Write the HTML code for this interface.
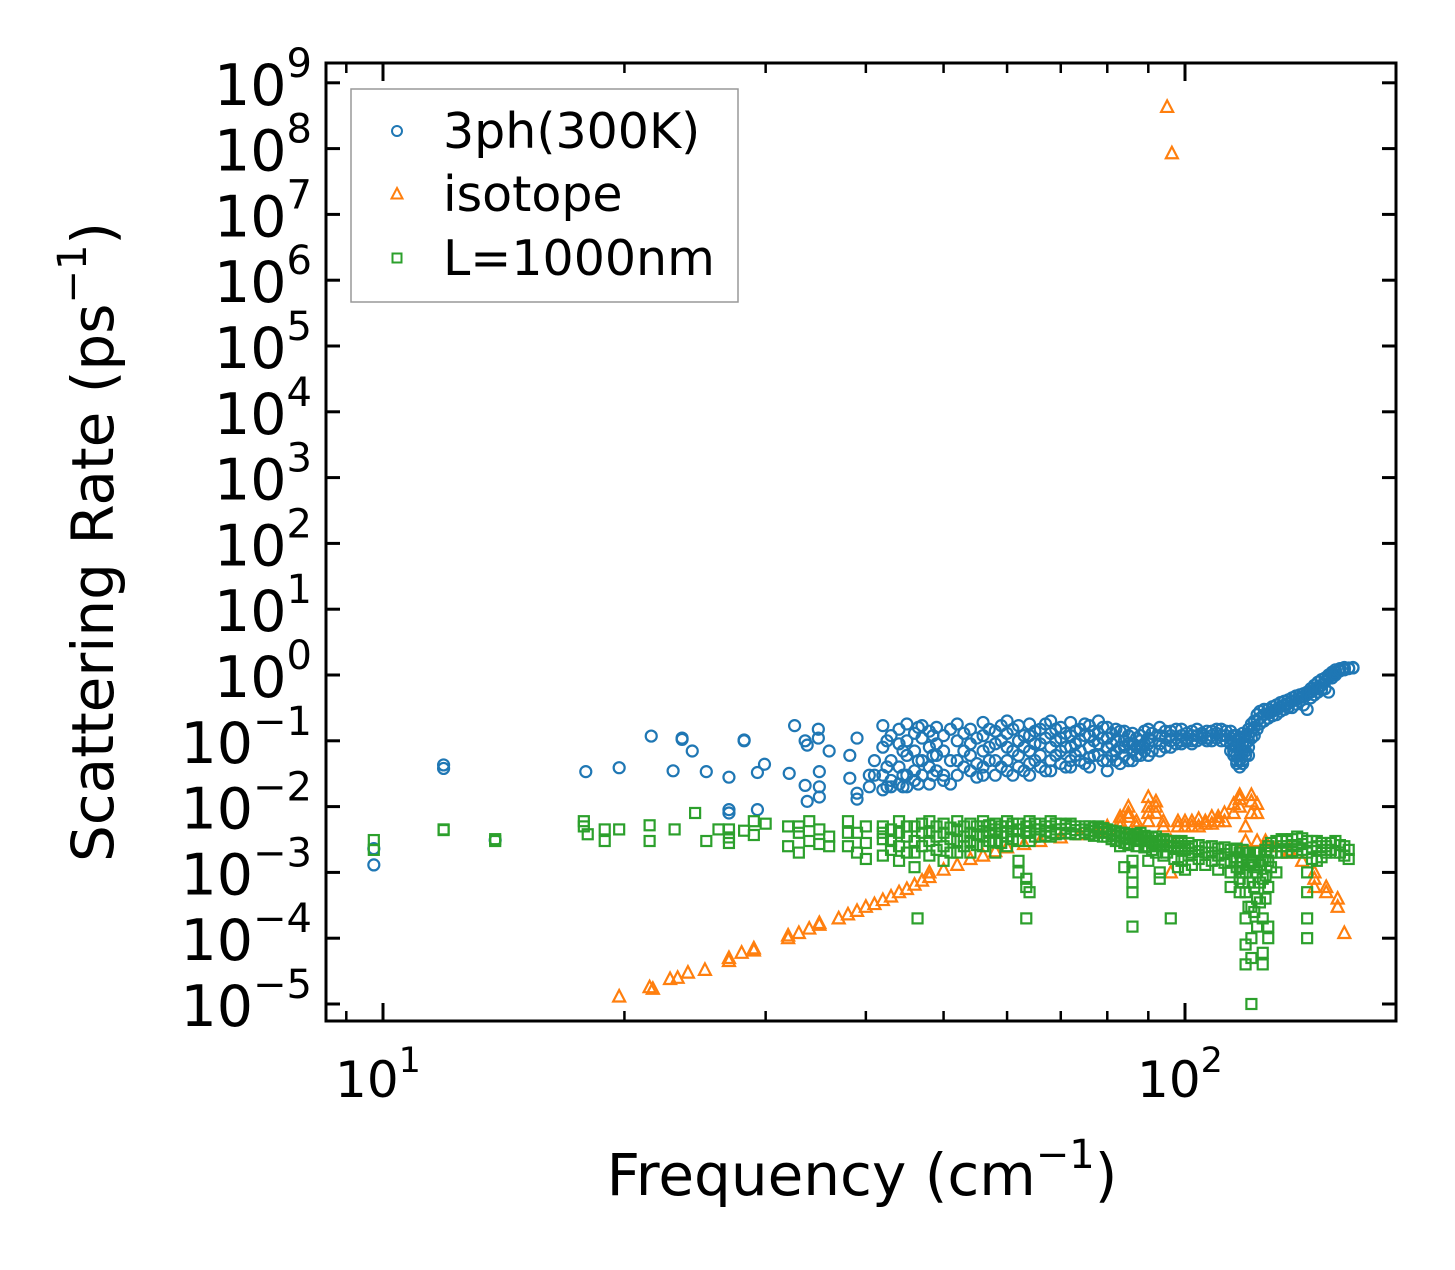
<!DOCTYPE html>
<html><head><meta charset="utf-8"><style>
html,body{margin:0;padding:0;background:#fff;}
svg{display:block;font-family:"DejaVu Sans","Liberation Sans",sans-serif;}
</style></head><body>
<svg id="chart" width="1455" height="1270" viewBox="0 0 1455 1270" xmlns="http://www.w3.org/2000/svg">
<rect width="1455" height="1270" fill="#fff"/>
<g id="marks"></g>
<g id="axes"></g>
<text x="862" y="1195" text-anchor="middle" font-size="58">Frequency (cm<tspan dy="-27" font-size="40">−1</tspan><tspan dy="27">)</tspan></text>
<text transform="translate(113,542) rotate(-90)" text-anchor="middle" font-size="58">Scattering Rate (ps<tspan dy="-27" font-size="40">−1</tspan><tspan dy="27">)</tspan></text>
<g>
<rect x="351" y="89" width="387" height="213" fill="#fff" stroke="#999" stroke-width="1.5"/>
<circle cx="397" cy="131" r="5" fill="none" stroke="#1f77b4" stroke-width="2"/>
<text x="443" y="148" font-size="49">3ph(300K)</text>
<polygon points="397,188 402.5,198.5 391.5,198.5" fill="none" stroke="#ff7f0e" stroke-width="2"/>
<text x="443" y="211" font-size="49">isotope</text>
<rect x="392.5" y="253.5" width="9" height="9" fill="none" stroke="#2ca02c" stroke-width="2"/>
<text x="443" y="275" font-size="49">L=1000nm</text>
</g>
</svg>
<script>
// ---- data ----
const freq3ph = [9.74,11.9,13.8,17.9,19.7,21.6,23.0,23.6,24.3,25.3,27.0,28.2,29.3,29.9,32.1,32.6,33.6,33.8,34.9,35.0,36,38.2,39,40.4,41,
 42,42.5,43,44,44.5,45,46,46.5,47,48,48.5,49,50,51,52,53,54,55,56,57,58,59,60,61,62,63,64,65,66,67,68,69,70,71,72,73,74,75,76,77,78,79,80,81,82,83,84,85,86,87,88,89,90,91,93,94.5,96,97.5,99,100.5,102,103.5,105,106.5,108,109.5,111,112.5,114,115,116,117,118,119,120,121,122,123,124,125.5,127,128.5,130,131.5,133,134.5,136,137.5,139,140.5,142,143.5,145,146.5,148,149.5,151,152.5,154,156,158,160,162];
const rate3ph = [[0.0023,0.0013],[0.043,0.038],[0.0031],[0.034],[0.039],[0.118],[0.035],[0.11,0.105],[0.07],[0.034],[0.028,0.009,0.008],[0.103,0.1],[0.033,0.009],[0.044],[0.032],[0.17],[0.1,0.021],[0.012,0.086],[0.15,0.11],[0.034,0.02,0.014],[0.07],[0.027,0.06],[0.016,0.013,0.11],[0.03,0.02],[0.05,0.03],
 [0.17,0.08,0.03,0.018],[0.1,0.04,0.02],[0.12,0.05,0.025,0.02],[0.15,0.09,0.04,0.022],[0.07,0.03,0.02],[0.18,0.1,0.06,0.03,0.02],[0.13,0.07,0.035,0.025],[0.16,0.05,0.022],[0.17,0.11,0.05,0.03],[0.14,0.08,0.04,0.022],[0.12,0.06,0.03],[0.16,0.09,0.06,0.035],[0.12,0.07,0.03,0.025],[0.15,0.05,0.022],[0.18,0.1,0.05,0.03],[0.13,0.07,0.04],[0.15,0.09,0.06,0.035],[0.11,0.045,0.028],[0.19,0.12,0.07,0.04,0.03],[0.15,0.08,0.05],[0.14,0.09,0.05,0.03],[0.17,0.1,0.04],[0.2,0.13,0.08,0.05,0.035],[0.15,0.07,0.03],[0.17,0.1,0.06,0.04],[0.12,0.08,0.035],[0.18,0.12,0.07,0.045,0.03],[0.14,0.09,0.05],[0.15,0.09,0.06,0.04],[0.18,0.11,0.035],[0.2,0.13,0.08,0.05,0.035],[0.15,0.1,0.06],[0.16,0.11,0.07,0.045],[0.13,0.08,0.04],[0.19,0.12,0.08,0.05,0.04],[0.14,0.09,0.06],[0.15,0.1,0.07,0.05],[0.18,0.12,0.045],[0.17,0.12,0.08,0.055,0.04],[0.14,0.1,0.06],[0.2,0.13,0.09,0.06],[0.16,0.11,0.05],[0.16,0.11,0.08,0.05,0.035],[0.13,0.09,0.06],[0.15,0.1,0.07,0.05],[0.14,0.08,0.045],[0.14,0.1,0.08,0.06],[0.12,0.09,0.05],[0.13,0.09,0.07,0.05],[0.11,0.08,0.06],[0.12,0.1,0.08,0.06],[0.14,0.09,0.07],[0.15,0.11,0.09,0.06],[0.13,0.1,0.07],[0.16,0.12,0.09,0.07],[0.14,0.11,0.08],[0.14,0.12,0.1,0.08],[0.15,0.11,0.09],[0.15,0.12,0.1,0.09],[0.13,0.11,0.1],[0.14,0.12,0.1,0.09],[0.15,0.12,0.1],[0.13,0.12,0.11],[0.14,0.11,0.1],[0.14,0.12,0.1],[0.15,0.13,0.11],[0.15,0.12,0.1],[0.14,0.12,0.1],[0.14,0.11,0.09,0.07],[0.12,0.09,0.07,0.06],[0.12,0.1,0.08,0.06,0.05,0.045],[0.11,0.08,0.06,0.05,0.04],[0.13,0.09,0.07,0.05,0.045],[0.12,0.09,0.07,0.06],[0.15,0.12,0.1,0.08,0.06],[0.18,0.14,0.11],[0.2,0.16,0.12],[0.25,0.2,0.15],[0.28,0.22,0.18],[0.3,0.25,0.2],[0.3,0.26,0.22],[0.33,0.28,0.24],[0.35,0.3,0.25],[0.38,0.33,0.28],[0.4,0.35,0.3],[0.42,0.37,0.32],[0.45,0.4,0.32],[0.48,0.42,0.36],[0.5,0.45,0.4],[0.52,0.47,0.35],[0.55,0.5,0.3],[0.62,0.55,0.45],[0.7,0.6,0.5],[0.78,0.66,0.55],[0.85,0.7,0.6],[0.9,0.8,0.62],[1.0,0.9,0.55],[1.1,1.0,0.9],[1.2,1.1,1.0],[1.25,1.15],[1.3,1.2,1.25],[1.28,1.25],[1.3,1.28]];

const freqIso = [19.7,21.5,21.7,22.8,23.3,24,25.2,27,28,29,32,33,34,35,37,38,39,40,41,42,43,44,45,46,47,48,50,52,54,56,58,60,63,66,70,74,78,80,83,85,87,90,92,94,95.0,96.3,96,98,100,102,104,106,108,110,112,115,117,119,121,123,126,130,135,140,145,150,155,158];
const rateIso = [[1.3e-5],[1.8e-5],[1.7e-5],[2.4e-5],[2.5e-5],[3e-5],[3.3e-5],[4.5e-5,5e-5],[6e-5],[6.5e-5,7e-5],[1e-4,1.1e-4],[1.2e-4],[1.4e-4],[1.6e-4,1.7e-4],[2e-4],[2.3e-4],[2.6e-4],[3e-4],[3.3e-4],[3.8e-4],[4.3e-4],[5e-4],[5.6e-4],[6.5e-4],[7.5e-4],[8.5e-4,1e-3],[1.1e-3],[1.3e-3],[1.6e-3],[1.8e-3],[2.1e-3],[2.4e-3],[2.7e-3],[3e-3],[3.4e-3],[3.8e-3],[4.2e-3],[4.5e-3,5e-3],[5e-3,7e-3,6e-3],[1e-2,7e-3,8e-3],[5e-3,6e-3],[6e-3,1e-2,1.4e-2,8e-3],[1.2e-2,8e-3,1e-2],[5e-3,6e-3],[4.3e8],[8.5e7],[3e-3,1e-3],[5e-3,6e-3],[6e-3,5e-3],[6e-3,5e-3],[6.5e-3,5e-3],[6e-3,5.5e-3],[7e-3,5.5e-3],[7e-3,6e-3],[8e-3,6e-3],[1.1e-2,8e-3],[1.5e-2,1e-2,1.3e-2],[5e-3,3e-3],[8e-3,1.5e-2,1.2e-2],[8e-3,3e-3,1.1e-2],[3e-3,2.5e-3],[2.5e-3],[2e-3,2.2e-3],[1.5e-3],[1e-3,6e-4,8e-4],[5e-4,6e-4],[3e-4,4e-4],[1.2e-4]];

const freqL = [9.74,11.9,13.8,17.8,18,18.9,19.7,21.5,23.1,24.5,25.3,26.2,27,28.2,29,30,32,33,34,35,36,38,39,40,42,43,44,45,46,46.4,47,48,49,50,51,52,53,54,55,56,57,58,59,60,61,62,63.4,64,65,66,67,68,69,70,71,72,73,75,76,77,78,79,80,81,82,83,84,85,86,87,88,89,90,91,92,93,94,95,96,97,98,99,100,101,102,104,106,108,110,112,114,116,117,118,119,120,121,122,123,124,125,126,127,128,130,132,134,136,138,140,142,144,146,148,150,152,154,156,158,160];
const rateL = [[3.1e-3,2.2e-3],[4.5e-3,4.4e-3],[3.2e-3,3e-3],[6e-3,5e-3],[3.8e-3],[4.5e-3,3e-3],[4.5e-3],[5.2e-3,3e-3],[4.5e-3],[8e-3],[3e-3],[4.5e-3],[2.8e-3,4.5e-3,3.4e-3],[4.3e-3],[3.7e-3,6e-3],[5.5e-3],[5e-3,2.5e-3],[5e-3,4e-3,2e-3],[6e-3,3e-3],[4.5e-3,2.7e-3],[2.5e-3,3.5e-3],[6e-3,2.5e-3,4e-3],[4e-3,2e-3],[5e-3,2.8e-3,1.6e-3],[5e-3,3.2e-3,1.8e-3,4e-3],[4.5e-3,3e-3,2.2e-3],[6e-3,4e-3,2.5e-3,1.5e-3],[5e-3,3.5e-3,2e-3],[5e-3,3e-3,2e-3,1.2e-3],[2e-4],[5.5e-3,4e-3,2.5e-3],[6e-3,4e-3,3e-3,1.8e-3],[5e-3,3.5e-3,2.2e-3],[5.5e-3,4e-3,2.5e-3,1.5e-3],[4.8e-3,3.2e-3,2e-3],[6e-3,4.5e-3,3e-3,2e-3],[5e-3,3.5e-3,2.5e-3],[5.5e-3,4e-3,3e-3,2e-3],[5e-3,3.8e-3,2.6e-3],[6e-3,5e-3,3.5e-3,2.5e-3],[5.2e-3,4e-3,3e-3],[5.5e-3,4.5e-3,3e-3,2e-3],[5e-3,4e-3,2.8e-3],[6e-3,5e-3,3.5e-3,2.5e-3],[5.5e-3,4.2e-3,3.2e-3],[5.5e-3,4.5e-3,3e-3,1.5e-3,1e-3],[2e-4,8e-4,6e-4,5e-3,4e-3],[6e-3,5e-3,4e-3,3e-3,5e-4],[5.5e-3,4.5e-3,3.5e-3],[5.5e-3,4.5e-3,3.5e-3],[5e-3,4.2e-3,3.6e-3],[6e-3,5e-3,4e-3,3.5e-3],[5.5e-3,4.5e-3,3.8e-3],[5.5e-3,4.5e-3,4e-3],[5.2e-3,4.6e-3,3.9e-3],[5.5e-3,5e-3,4e-3],[5e-3,4.4e-3,3.8e-3],[5e-3,4.5e-3,4e-3],[5e-3,4.3e-3,3.8e-3],[4.8e-3,4.2e-3,3.6e-3],[5e-3,4.5e-3,4e-3],[4.7e-3,4.1e-3,3.5e-3],[4.5e-3,4e-3,3.5e-3],[4.3e-3,3.8e-3,3.2e-3],[4.2e-3,3.6e-3,3e-3],[4e-3,3.5e-3,2.5e-3],[4e-3,3.3e-3,2.8e-3,1.2e-3],[3.8e-3,3.2e-3,2.6e-3],[3.5e-3,1.5e-3,1e-3,7e-4,5e-4,1.5e-4],[3.8e-3,3.2e-3,2.5e-3],[4e-3,3.5e-3,3e-3],[3.6e-3,3e-3,2.4e-3],[3.5e-3,3e-3,2.5e-3,1.5e-3],[3.4e-3,2.8e-3,2.2e-3],[3.5e-3,2.6e-3,2e-3],[3e-3,2.5e-3,1e-3,8e-4],[3.2e-3,2.6e-3,1.8e-3],[3e-3,2.5e-3,2e-3],[3e-3,2.5e-3,2e-4],[3e-3,2.4e-3,1.6e-3],[2.8e-3,2.3e-3,1.2e-3],[3e-3,2.5e-3,1.5e-3],[2.5e-3,2.2e-3,1.1e-3],[2.8e-3,2.3e-3,1.8e-3],[2.5e-3,2e-3,1.3e-3],[2.6e-3,2.1e-3,1.6e-3],[2.4e-3,2e-3,1.3e-3],[2.5e-3,2e-3,1.5e-3],[2.3e-3,1.8e-3,1.1e-3],[2.4e-3,1.9e-3,1.4e-3],[2.2e-3,1.5e-3,1e-3,6e-4],[2.3e-3,1.7e-3,1.2e-3],[2e-3,1.2e-3,8e-4,5e-4],[2.2e-3,1.5e-3,1e-3,7e-4],[2e-3,1e-3,5e-4,2e-4,8e-5,4e-5],[2e-3,1.3e-3,7e-4,3e-4],[1e-5,3e-4,1e-4,5e-5,1.5e-3],[2e-3,1.2e-3,6e-4,2.5e-4],[2e-3,1e-3,4e-4,1.5e-4],[2e-3,1.3e-3,7e-4,3.5e-4],[1.5e-3,8e-4,2e-4,6e-5,4e-5],[2.2e-3,1.5e-3,9e-4,4e-4],[2.5e-3,1.5e-3,6e-4,1.5e-4,1e-4],[2.8e-3,2e-3,1.2e-3],[3e-3,2e-3,1e-3],[3.2e-3,2.5e-3,2e-3],[3e-3,2.5e-3,2e-3],[3.2e-3,2.6e-3,2.1e-3],[3.5e-3,2.5e-3,2e-3],[3.3e-3,2.7e-3,2.2e-3],[3e-3,2e-3,1e-3,5e-4,2e-4,1e-4],[3e-3,2.4e-3,1.6e-3],[3e-3,2.5e-3,1.5e-3],[2.8e-3,2.2e-3,1.7e-3],[2.5e-3,2e-3],[2.8e-3,2.2e-3],[3e-3,2e-3],[2.6e-3,2e-3],[2.5e-3,1.8e-3],[2.2e-3,1.6e-3],[2e-3,1.5e-3]];

const yTickExps = [9,8,7,6,5,4,3,2,1,0,-1,-2,-3,-4,-5];
const xMajor = [10,100];
const xMinor = [9,20,30,40,50,60,70,80,90,200];

// ---- axes ----
const L=326,R=1396,T=63,B=1021;
const xDec0=383, xPerDec=802;
const y0=675, yPerDec=65.8;
const sx = f => xDec0 + (Math.log10(f)-1)*xPerDec;
const sy = v => y0 - Math.log10(v)*yPerDec;
const NS="http://www.w3.org/2000/svg";
const marks=document.getElementById('marks');
const axes=document.getElementById('axes');
function mk(tag,attrs,parent){const e=document.createElementNS(NS,tag);for(const k in attrs)e.setAttribute(k,attrs[k]);parent.appendChild(e);return e;}

function plotSeries(freqs, rates, kind, color, name){
  const g=mk('g',{},marks);
  
  
  freqs.forEach((f,i)=>{
    (rates[i]||[]).forEach(v=>{
      const x=sx(f), y=sy(v);
      if(x<L||x>R||y<T||y>B) return;
      let e;
      if(kind==='circle') e=mk('circle',{cx:x,cy:y,r:5.5,fill:'none',stroke:color,'stroke-width':2.2},g);
      else if(kind==='tri') e=mk('polygon',{points:`${x},${y-6.5} ${x+6},${y+5} ${x-6},${y+5}`,fill:'none',stroke:color,'stroke-width':2.2},g);
      else e=mk('rect',{x:x-5,y:y-5,width:10,height:10,fill:'none',stroke:color,'stroke-width':2.2},g);
      
      
    });
  });
}
plotSeries(freq3ph, rate3ph, 'circle', '#1f77b4', 'series-3ph');
plotSeries(freqIso, rateIso, 'tri', '#ff7f0e', 'series-isotope');
plotSeries(freqL, rateL, 'square', '#2ca02c', 'series-l1000nm');

const fr=mk('rect',{x:L,y:T,width:R-L,height:B-T,fill:'none',stroke:'#000','stroke-width':3},axes);



yTickExps.forEach(e=>{
  const y=sy(Math.pow(10,e));
  mk('line',{x1:L,y1:y,x2:L+14,y2:y,stroke:'#000','stroke-width':3},axes);
  mk('line',{x1:R,y1:y,x2:R-14,y2:y,stroke:'#000','stroke-width':3},axes);
  const t=mk('text',{x:L-14,y:y+22,'text-anchor':'end','font-size':57,fill:'#000'},axes);
  
  
  t.appendChild(document.createTextNode('10'));
  const s=mk('tspan',{dy:-28,'font-size':40},t);
  s.textContent = e<0 ? '\u2212'+(-e) : String(e);
});
xMajor.forEach(f=>{
  const x=sx(f);
  mk('line',{x1:x,y1:B,x2:x,y2:B-18,stroke:'#000','stroke-width':3},axes);
  mk('line',{x1:x,y1:T,x2:x,y2:T+18,stroke:'#000','stroke-width':3},axes);
  const t=mk('text',{x:x-5,y:1097,'text-anchor':'middle','font-size':50,fill:'#000'},axes);
  
  
  t.appendChild(document.createTextNode('10'));
  const s=mk('tspan',{dy:-25,'font-size':35},t);
  s.textContent=String(Math.round(Math.log10(f)));
});
xMinor.forEach(f=>{
  const x=sx(f); if(x<L||x>R) return;
  mk('line',{x1:x,y1:B,x2:x,y2:B-10,stroke:'#000','stroke-width':2.5},axes);
  mk('line',{x1:x,y1:T,x2:x,y2:T+10,stroke:'#000','stroke-width':2.5},axes);
});
</script>
</body></html>
